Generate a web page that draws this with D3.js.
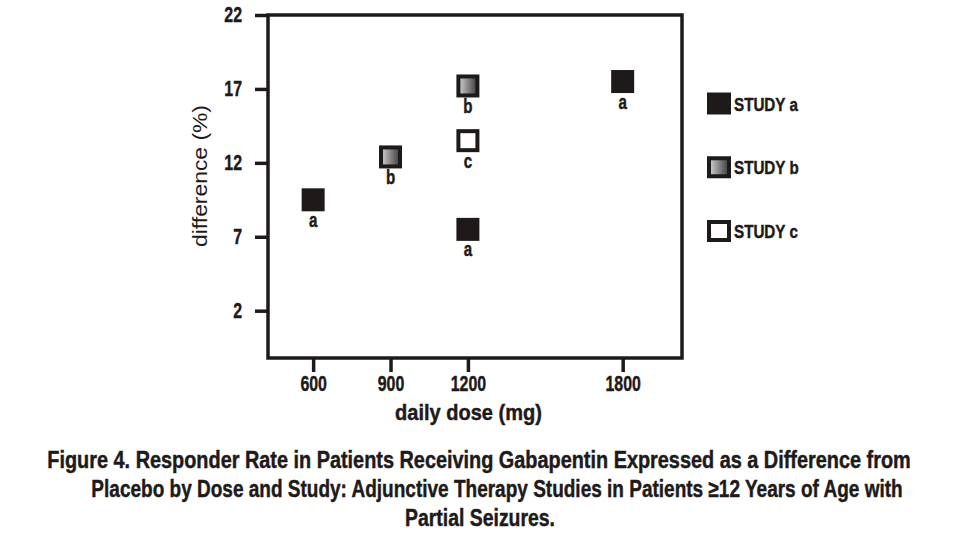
<!DOCTYPE html>
<html>
<head>
<meta charset="utf-8">
<script src="https://cdn.jsdelivr.net/npm/d3@7"></script>
<style>
  html, body { margin: 0; padding: 0; background: #fff; }
  svg { display: block; }
  text { font-family: "Liberation Sans", Arial, Helvetica, sans-serif; fill: #1e1a1a; }
  text.heavy { stroke: #1e1a1a; stroke-width: 0.45px; }
</style>
</head>
<body>
<svg id="chart" width="963" height="542"></svg>
<script>
// ---- data ----
const doses   = [600, 900, 1200, 1200, 1200, 1800];
const diffs   = [9.5, 12.4, 17.2, 13.5, 7.5, 17.5];
const studies = ["a", "b", "b", "c", "a", "a"];
const xTicks  = [600, 900, 1200, 1800];
const yTicks  = [2, 7, 12, 17, 22];
const legendStudies = ["a", "b", "c"];
const legendLabels  = ["STUDY a", "STUDY b", "STUDY c"];
const xTitle = "daily dose (mg)";
const yTitle = "difference (%)";
const caption = [
  "Figure 4. Responder Rate in Patients Receiving Gabapentin Expressed as a Difference from",
  "Placebo by Dose and Study: Adjunctive Therapy Studies in Patients \u226512 Years of Age with",
  "Partial Seizures."
];

// ---- layout ----
const ink = "#1e1a1a";
const svg = d3.select("#chart");
const L = 268, R = 682, T = 15, B = 358;
const SX = 0.74; // condensed look for tick labels

const x = d3.scaleLinear().domain([425, 2030]).range([L, R]);
const y = d3.scaleLinear().domain([-1.2, 22]).range([B, T]);

const defs = svg.append("defs");
const grad = defs.append("linearGradient").attr("id", "gradB")
  .attr("x1", "0%").attr("y1", "0%").attr("x2", "100%").attr("y2", "0%");
grad.append("stop").attr("offset", "0%").attr("stop-color", "#d4d4d6");
grad.append("stop").attr("offset", "100%").attr("stop-color", "#3a3a3c");

function fillFor(s) { return s === "a" ? ink : (s === "b" ? "url(#gradB)" : "#ffffff"); }

// condensed text helper (fixed horizontal scale)
function ctext(parent, px, py, str, size, weight, anchor, sx) {
  return parent.append("g").attr("transform", `translate(${px},${py}) scale(${sx},1)`)
    .append("text").attr("class", "heavy").attr("text-anchor", anchor || "start")
    .style("font-size", size + "px").style("font-weight", weight)
    .text(str);
}
// text squeezed to a target width
function ftext(parent, px, py, str, size, weight, width, rot, cls) {
  const g = parent.append("g");
  const t = g.append("text").attr("text-anchor", "middle")
    .attr("class", cls || null)
    .style("font-size", size + "px").style("font-weight", weight).text(str);
  const w = t.node().getComputedTextLength();
  const sx = width / w;
  g.attr("transform", `translate(${px},${py})` + (rot ? ` rotate(${rot})` : "") + ` scale(${sx},1)`);
  return t;
}

// axes
const yAxis = d3.axisLeft(y).tickValues(yTicks).tickSize(13).tickPadding(13).tickFormat(d3.format("d"));
const gy = svg.append("g").attr("transform", `translate(${L},0)`).call(yAxis);
const xAxis = d3.axisBottom(x).tickValues(xTicks).tickSize(14).tickPadding(4).tickFormat(d3.format("d"));
const gx = svg.append("g").attr("transform", `translate(0,${B})`).call(xAxis);
[gx, gy].forEach(g => {
  g.select(".domain").remove();
  g.selectAll(".tick line").attr("stroke", ink).attr("stroke-width", 3.5);
  g.selectAll(".tick text").attr("fill", ink).attr("class", "heavy")
    .style("font-family", '"Liberation Sans", Arial, sans-serif')
    .style("font-size", "21.5px").style("font-weight", "bold")
    .each(function () {
      const t = d3.select(this);
      const ox = +t.attr("x") || 0;
      t.attr("x", ox / SX).attr("transform", `scale(${SX},1)`);
    });
});

// frame
svg.append("rect").attr("x", L).attr("y", T).attr("width", R - L).attr("height", B - T)
  .attr("fill", "none").attr("stroke", ink).attr("stroke-width", 3.5);

// points
const pts = svg.append("g");
const S = 19, SW = 4;
doses.forEach((d, i) => {
  const cx = x(d), cy = y(diffs[i]);
  pts.append("rect")
    .attr("x", cx - S / 2).attr("y", cy - S / 2).attr("width", S).attr("height", S)
    .attr("fill", fillFor(studies[i])).attr("stroke", ink).attr("stroke-width", SW);
  ctext(pts, cx, cy + 27, studies[i], 21, "bold", "middle", 0.72);
});

// legend
const lg = svg.append("g");
const legY = d3.scalePoint().domain(legendStudies).range([103.5, 231]);
legendStudies.forEach((s, i) => {
  const cy = legY(s);
  lg.append("rect").attr("x", 709).attr("y", cy - 9).attr("width", 20).attr("height", 18)
    .attr("fill", fillFor(s)).attr("stroke", ink).attr("stroke-width", 4);
  ctext(lg, 734, cy + 7, legendLabels[i], 19, "bold", "start", 0.8);
});

// axis titles
ftext(svg, 468.5, 420, xTitle, 22.5, "bold", 147, 0, "heavy");
ftext(svg, 207, 176, yTitle, 21, "normal", 142, -90);

// caption
const capY = [468, 497, 526];
const capW = [864, 812, 150];
const capX = [479, 497, 480];
caption.forEach((line, i) => {
  ftext(svg, capX[i], capY[i], line, 23.5, "bold", capW[i], 0, "heavy");
});
</script>
</body>
</html>
